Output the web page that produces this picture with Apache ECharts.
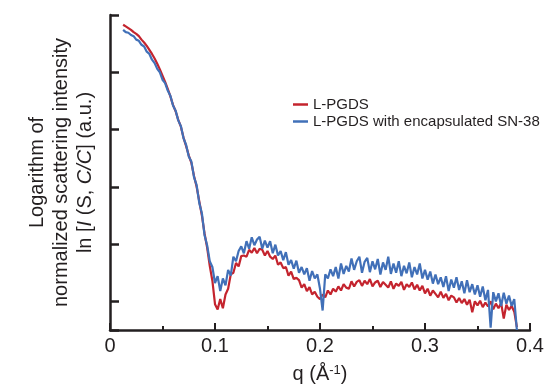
<!DOCTYPE html>
<html>
<head>
<meta charset="utf-8">
<script src="https://cdn.jsdelivr.net/npm/echarts@6/dist/echarts.min.js"></script>
<style>html,body{margin:0;padding:0;background:#fff;}#c{width:544px;height:385px;}</style>
</head>
<body>
<div id="c"></div>
<script>
// q values (Å^-1)
const qValues = [
0.0125,0.015,0.0175,0.02,0.0225,0.025,0.0275,0.03,0.0325,0.035,0.0375,0.04,0.0425,0.045,0.0475,0.05,0.0525,0.055,0.0575,0.06,
0.0625,0.065,0.0675,0.07,0.0725,0.075,0.0775,0.08,0.0825,0.085,0.0875,0.09,0.0925,0.095,0.0975,0.1,0.1025,0.105,0.1075,0.11,
0.1125,0.115,0.1175,0.12,0.1225,0.125,0.1275,0.13,0.1325,0.135,0.1375,0.14,0.1425,0.145,0.1475,0.15,0.1525,0.155,0.1575,0.16,
0.1625,0.165,0.1675,0.17,0.1725,0.175,0.1775,0.18,0.1825,0.185,0.1875,0.19,0.1925,0.195,0.1975,0.2,0.2025,0.205,0.2075,0.21,
0.2125,0.215,0.2175,0.22,0.2225,0.225,0.2275,0.23,0.2325,0.235,0.2375,0.24,0.2425,0.245,0.2475,0.25,0.2525,0.255,0.2575,0.26,
0.2625,0.265,0.2675,0.27,0.2725,0.275,0.2775,0.28,0.2825,0.285,0.2875,0.29,0.2925,0.295,0.2975,0.3,0.3025,0.305,0.3075,0.31,
0.3125,0.315,0.3175,0.32,0.3225,0.325,0.3275,0.33,0.3325,0.335,0.3375,0.34,0.3425,0.345,0.3475,0.35,0.3525,0.355,0.3575,0.36,
0.3625,0.365,0.3675,0.37,0.3725,0.375,0.3775,0.38,0.3825,0.385,0.3875
];
// L-PGDS (ln intensity, arbitrary units)
const lpgds = [
4.83,4.80,4.77,4.74,4.70,4.67,4.63,4.57,4.52,4.46,4.39,4.32,4.24,4.15,4.05,3.94,3.83,3.71,3.58,3.43,
3.32,3.17,3.05,2.86,2.71,2.55,2.42,2.19,2.00,1.75,1.50,1.19,0.94,0.62,0.36,-0.05,-0.14,0.04,-0.12,0.12,
0.22,0.47,0.50,0.67,0.61,0.79,0.80,0.78,0.90,0.85,0.93,0.84,0.92,0.90,0.80,0.88,0.78,0.74,0.80,0.64,
0.68,0.58,0.60,0.45,0.52,0.39,0.41,0.37,0.24,0.30,0.18,0.25,0.12,0.17,0.08,0.04,0.12,0.07,0.19,0.12,
0.22,0.17,0.26,0.19,0.30,0.24,0.22,0.35,0.26,0.34,0.37,0.27,0.36,0.30,0.39,0.26,0.33,0.36,0.25,0.34,
0.29,0.24,0.35,0.22,0.31,0.27,0.34,0.20,0.30,0.25,0.33,0.21,0.29,0.19,0.27,0.14,0.22,0.10,0.19,0.13,
0.07,0.17,0.06,0.13,0.02,0.10,0.07,-0.02,0.06,-0.03,0.04,-0.06,0.03,-0.19,0.00,-0.07,0.01,-0.10,-0.02,-0.09,
0.00,-0.14,-0.04,-0.12,-0.03,-0.30,-0.06,-0.15,-0.08,-0.18,-0.45
];
// L-PGDS with encapsulated SN-38
const lpgdsSN38 = [
4.74,4.70,4.69,4.65,4.63,4.57,4.55,4.48,4.45,4.36,4.32,4.22,4.16,4.06,4.00,3.87,3.81,3.68,3.59,3.42,
3.33,3.16,3.06,2.85,2.73,2.53,2.44,2.17,2.03,1.72,1.54,1.16,0.98,0.70,0.60,0.32,0.44,0.18,0.40,0.28,
0.55,0.45,0.78,0.70,0.88,0.96,0.84,1.05,0.92,1.12,0.98,1.08,1.13,0.92,1.06,0.94,1.05,0.84,0.99,0.80,
0.88,0.72,0.86,0.64,0.72,0.57,0.71,0.50,0.60,0.47,0.58,0.36,0.53,0.40,0.47,0.22,-0.16,0.47,0.40,0.56,
0.44,0.60,0.40,0.66,0.48,0.62,0.52,0.75,0.55,0.70,0.78,0.50,0.69,0.76,0.51,0.70,0.56,0.74,0.47,0.68,
0.55,0.78,0.48,0.66,0.50,0.70,0.44,0.62,0.49,0.68,0.42,0.60,0.47,0.66,0.40,0.55,0.38,0.52,0.31,0.47,
0.30,0.42,0.25,0.44,0.18,0.38,0.24,0.42,0.20,0.35,0.14,0.37,0.16,0.30,0.12,0.28,0.08,0.26,0.02,0.20,
-0.46,0.16,0.00,0.14,-0.08,0.15,-0.04,0.10,-0.08,0.04,-0.50
];
const seriesNames = ['L-PGDS', 'L-PGDS with encapsulated SN-38'];
const xTicks = [0, 0.1, 0.2, 0.3, 0.4];

const ink = '#231f20';
const chart = echarts.init(document.getElementById('c'), null, {renderer: 'canvas'});
chart.setOption({
  animation: false,
  backgroundColor: '#fff',
  textStyle: {fontFamily: 'Liberation Sans, Arial, sans-serif'},
  grid: {left: 110, right: 14, top: 15, bottom: 55, containLabel: false, outerBoundsMode: 'none'},
  legend: {
    orient: 'vertical', left: 288, top: 92, itemGap: 2,
    icon: 'rect', itemWidth: 15, itemHeight: 2.5,
    textStyle: {fontSize: 15, color: ink, padding: [0, 0, 0, 0]},
    data: seriesNames
  },
  xAxis: {
    type: 'value', min: xTicks[0], max: xTicks[xTicks.length - 1], interval: 0.1,
    name: '{n|q (Å}{s|-1}{n|)}', nameLocation: 'middle', nameGap: 34,
    nameTextStyle: {rich: {
      n: {fontSize: 20, color: ink, fontFamily: 'Liberation Sans'},
      s: {fontSize: 13, color: ink, verticalAlign: 'top', padding: [0, 0, 8, 0], fontFamily: 'Liberation Sans'}
    }},
    axisLine: {show: true, onZero: false, lineStyle: {color: ink, width: 2.5}},
    axisTick: {show: true, inside: true, length: 7, lineStyle: {color: ink, width: 2}},
    minorTick: {show: true, splitNumber: 2, length: 4, lineStyle: {color: ink, width: 2}},
    axisLabel: {fontSize: 20, color: ink, margin: 6},
    splitLine: {show: false}, minorSplitLine: {show: false}
  },
  yAxis: {
    type: 'value', min: -0.5, max: 5,
    name: 'Logarithm of\nnormalized scattering intensity\n{n|ln [}{i|I}{n| (S, }{i|C/C}{n|] (a.u.)}',
    nameLocation: 'middle', nameGap: 13,
    nameTextStyle: {fontSize: 20, color: ink, lineHeight: 24, align: 'center',
      rich: {
        n: {fontSize: 20, color: ink, lineHeight: 24},
        i: {fontSize: 20, color: ink, lineHeight: 24, fontStyle: 'italic'}
      }},
    axisLine: {show: true, onZero: false, lineStyle: {color: ink, width: 2.5}},
    axisTick: {show: true, inside: true, length: 9, lineStyle: {color: ink, width: 2.5}},
    axisLabel: {show: false},
    splitLine: {show: false}
  },
  series: [
    {name: seriesNames[0], type: 'line', showSymbol: false, symbol: 'none',
     lineStyle: {color: '#c4242e', width: 2.2}, itemStyle: {color: '#c4242e'},
     data: qValues.map((q, i) => [q, lpgds[i]]), z: 2},
    {name: seriesNames[1], type: 'line', showSymbol: false, symbol: 'none',
     lineStyle: {color: '#4170b8', width: 2.2}, itemStyle: {color: '#4170b8'},
     data: qValues.map((q, i) => [q, lpgdsSN38[i]]), z: 3}
  ]
});
</script>
</body>
</html>
